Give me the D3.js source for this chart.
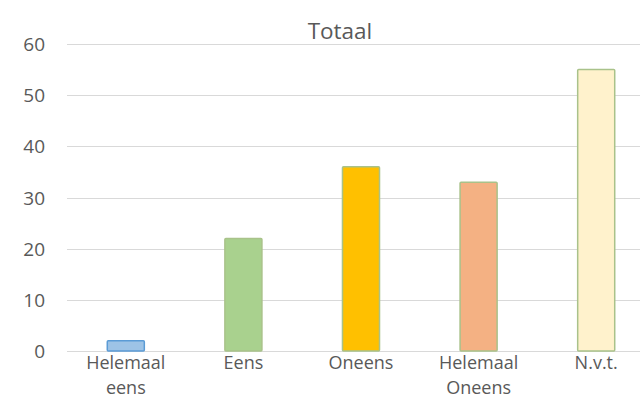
<!DOCTYPE html>
<html><head><meta charset="utf-8">
<script src="https://cdn.jsdelivr.net/npm/d3@7"></script>
<style>body{margin:0;background:#fff;overflow:hidden}svg{display:block}</style>
</head><body><svg id="c" width="640" height="418"></svg>
<script>
const categories = [["Helemaal","eens"],["Eens"],["Oneens"],["Helemaal","Oneens"],["N.v.t."]];
const values = [2, 22, 36, 33, 55];
const yTicks = [0,10,20,30,40,50,60];
const fills = ["#9DC3E6","#A9D18E","#FFC000","#F4B183","#FFF2CC"];
const strokes = ["#5B9BD5","#A9C28A","#A9C28A","#A9C28A","#A9C28A"];
const title = "Totaal";

const svg = d3.select("#c");
const font = "'Open Sans', 'Liberation Sans', sans-serif";
const x = d3.scaleBand().domain(d3.range(values.length)).range([67, 655]).paddingInner(0).paddingOuter(0);
const y = d3.scaleLinear().domain([0,60]).range([351, 44]);

svg.append("g").selectAll("line").data(yTicks).join("line")
  .attr("x1", 67).attr("x2", 640)
  .attr("y1", d => Math.round(y(d))+0.5).attr("y2", d => Math.round(y(d))+0.5)
  .attr("stroke", "#D9D9D9").attr("stroke-width", 1);

svg.append("g").selectAll("text").data(yTicks).join("text")
  .attr("x", 45).attr("y", d => y(d) + 7)
  .attr("text-anchor", "end").attr("font-family", font).attr("font-size", 19).attr("fill", "#595959")
  .text(d => d);

const bw = x.bandwidth()*0.315;
svg.append("g").selectAll("rect").data(values).join("rect")
  .attr("x", (d,i) => x(i) + x.bandwidth()/2 - bw/2)
  .attr("width", bw)
  .attr("y", d => y(d))
  .attr("height", d => y(0) - y(d))
  .attr("fill", (d,i) => fills[i])
  .attr("stroke", (d,i) => strokes[i]).attr("stroke-width", 1.5)
  .attr("rx", 1);

const xl = svg.append("g").selectAll("text").data(categories).join("text")
  .attr("text-anchor", "middle").attr("font-family", font).attr("font-size", 18).attr("fill", "#595959")
  .attr("x", (d,i) => x(i) + x.bandwidth()/2).attr("y", 369);
xl.selectAll("tspan").data(d => d).join("tspan")
  .attr("x", function(){ return d3.select(this.parentNode).attr("x"); })
  .attr("dy", (d,j) => j === 0 ? 0 : 25)
  .text(d => d);

svg.append("text").attr("x", 340).attr("y", 39).attr("text-anchor", "middle")
  .attr("font-family", font).attr("font-size", 22.5).attr("fill", "#595959").text(title);
</script></body></html>
